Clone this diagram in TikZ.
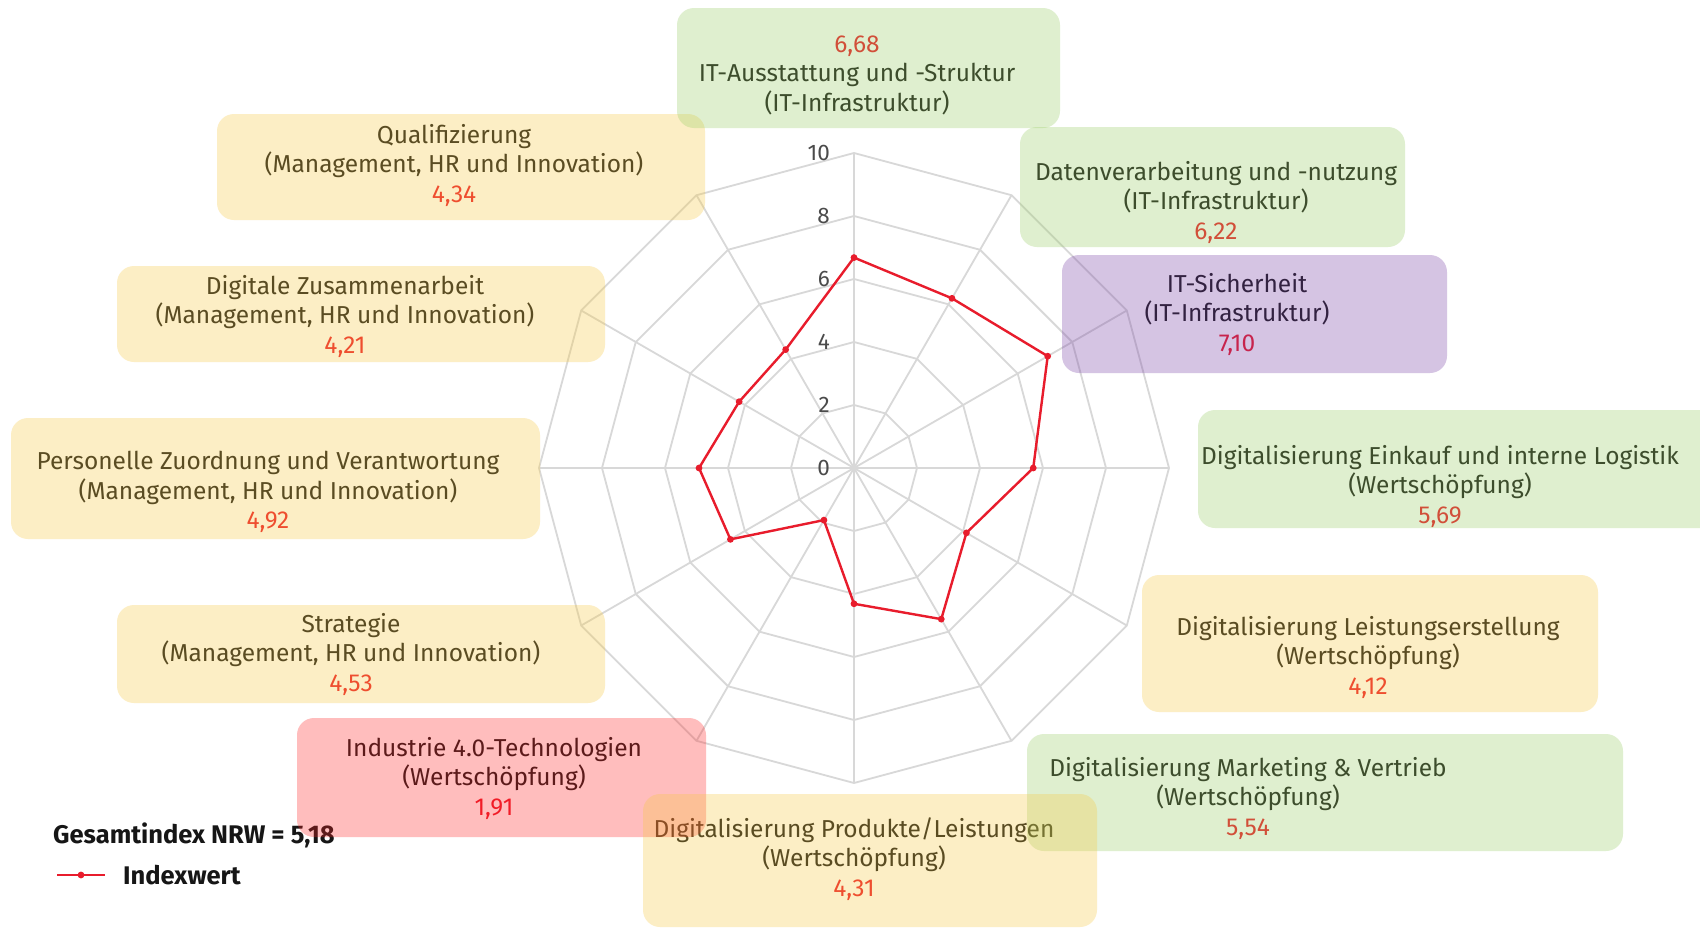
\documentclass[tikz,border=0pt]{standalone}
\usepackage{fontspec}
\setmainfont{Fira Sans}
\definecolor{gridgray}{RGB}{216,216,216}
\definecolor{linered}{RGB}{232,28,44}
\definecolor{numred}{RGB}{235,25,40}
\definecolor{txt}{RGB}{22,22,22}
\definecolor{ticktxt}{RGB}{75,75,75}
\definecolor{bgreen}{RGB}{152,205,98}
\definecolor{byellow}{RGB}{248,201,65}
\definecolor{bred}{RGB}{255,38,38}
\definecolor{bpurple}{RGB}{118,62,165}
\begin{document}
\begin{tikzpicture}[x=1pt,y=-1pt,
  gridline/.style={draw=gridgray, line width=1.8pt},
  dataline/.style={draw=linered, line width=2.4pt, line join=round},
  lbl/.style={align=center, text=txt, inner sep=0pt, font=\fontsize{24.5}{29.5}\selectfont},
  ticklbl/.style={anchor=east, text=ticktxt, inner sep=0pt, font=\fontsize{22.5}{26}\selectfont},
  legtxt/.style={anchor=west, text=txt, inner sep=0pt, font=\bfseries\fontsize{25.5}{28}\selectfont},
  boxbase/.style={rounded corners=17pt, fill opacity=0.3, draw=none},
  gbox/.style={boxbase, fill=bgreen},
  ybox/.style={boxbase, fill=byellow},
  rbox/.style={boxbase, fill=bred},
  pbox/.style={boxbase, fill=bpurple}]
\useasboundingbox (0,0) rectangle (1700,929);
\fill[white] (0,0) rectangle (1700,929);

% ---- radar grid ----
\coordinate (C) at (854,468);
\begin{scope}[shift={(854,468)}]
  \foreach \k in {0,...,11} {
    \coordinate (o\k) at (-90+30*\k:315);
  }
  \foreach \r in {63,126,189,252,315} {
    \draw[gridline] (-90:\r) \foreach \k in {1,...,11} { -- (-90+30*\k:\r) } -- cycle;
  }
  \foreach \k/\v in {0/6.68,1/6.22,2/7.10,3/5.69,4/4.12,5/5.54,6/4.31,7/1.91,8/4.53,9/4.92,10/4.21,11/4.34} {
    \coordinate (p\k) at (-90+30*\k:31.5*\v);
  }
\end{scope}
\foreach \k in {0,...,11} { \draw[gridline] (C) -- (o\k); }

% tick labels
\foreach \v in {0,2,4,6,8,10} {
  \node[ticklbl] (tick\v) at (830,468-31.5*\v) {\v};
}

% ---- data ----
\draw[dataline] (p0) -- (p1) -- (p2) -- (p3) -- (p4) -- (p5) -- (p6) -- (p7) -- (p8) -- (p9) -- (p10) -- (p11) -- cycle;
\foreach \k in {0,...,11} { \fill[linered] (p\k) circle (3.4pt); }

% ---- labels ----
\node[lbl] (t1) at (857,75) {\textcolor{numred}{6,68}\\IT-Ausstattung und -Struktur\\(IT-Infrastruktur)};
\node[lbl] (t2) at (1216,202) {Datenverarbeitung und -nutzung\\(IT-Infrastruktur)\\\textcolor{numred}{6,22}};
\node[lbl] (t3) at (1237,314) {IT-Sicherheit\\(IT-Infrastruktur)\\\textcolor{numred}{7,10}};
\node[lbl] (t4) at (1440,486) {Digitalisierung Einkauf und interne Logistik\\(Wertschöpfung)\\\textcolor{numred}{5,69}};
\node[lbl] (t5) at (1368,657) {Digitalisierung Leistungserstellung\\(Wertschöpfung)\\\textcolor{numred}{4,12}};
\node[lbl] (t6) at (1248,798) {Digitalisierung Marketing \& Vertrieb\\(Wertschöpfung)\\\textcolor{numred}{5,54}};
\node[lbl] (t7) at (854,859) {Digitalisierung Produkte/Leistungen\\(Wertschöpfung)\\\textcolor{numred}{4,31}};
\node[lbl] (t8) at (494,778) {Industrie 4.0-Technologien\\(Wertschöpfung)\\\textcolor{numred}{1,91}};
\node[lbl] (t9) at (351,654) {Strategie\\(Management, HR und Innovation)\\\textcolor{numred}{4,53}};
\node[lbl] (t10) at (268,492) {Personelle Zuordnung und Verantwortung\\(Management, HR und Innovation)\\\textcolor{numred}{4,92}};
\node[lbl] (t11) at (345,316) {Digitale Zusammenarbeit\\(Management, HR und Innovation)\\\textcolor{numred}{4,21}};
\node[lbl] (t12) at (454,165) {Qualifizierung\\(Management, HR und Innovation)\\\textcolor{numred}{4,34}};

% ---- legend ----
\node[legtxt] (ges) at (53,835) {Gesamtindex NRW = 5,18};
\coordinate (la) at (57,875);
\coordinate (lb) at (105,875);
\coordinate (lm) at (81,875);
\draw[dataline] (la) -- (lb);
\fill[linered] (lm) circle (3.4pt);
\node[legtxt] (idx) at (123,875) {Indexwert};

% ---- translucent boxes (drawn over the text) ----
\fill[ybox] (217,114) rectangle (705,220);
\fill[ybox] (117,266) rectangle (605,362);
\fill[ybox] (11,418) rectangle (540,539);
\fill[ybox] (117,605) rectangle (605,703);
\fill[rbox] (297,718) rectangle (706,837);
\fill[gbox] (677,8) rectangle (1060,128);
\fill[gbox] (1020,127) rectangle (1405,247);
\fill[pbox] (1062,255) rectangle (1447,373);
\fill[gbox] (1198,410) rectangle (1720,528);
\fill[ybox] (1142,575) rectangle (1598,712);
\fill[gbox] (1027,734) rectangle (1623,851);
\fill[ybox] (643,794) rectangle (1097,927);
\end{tikzpicture}
\end{document}
